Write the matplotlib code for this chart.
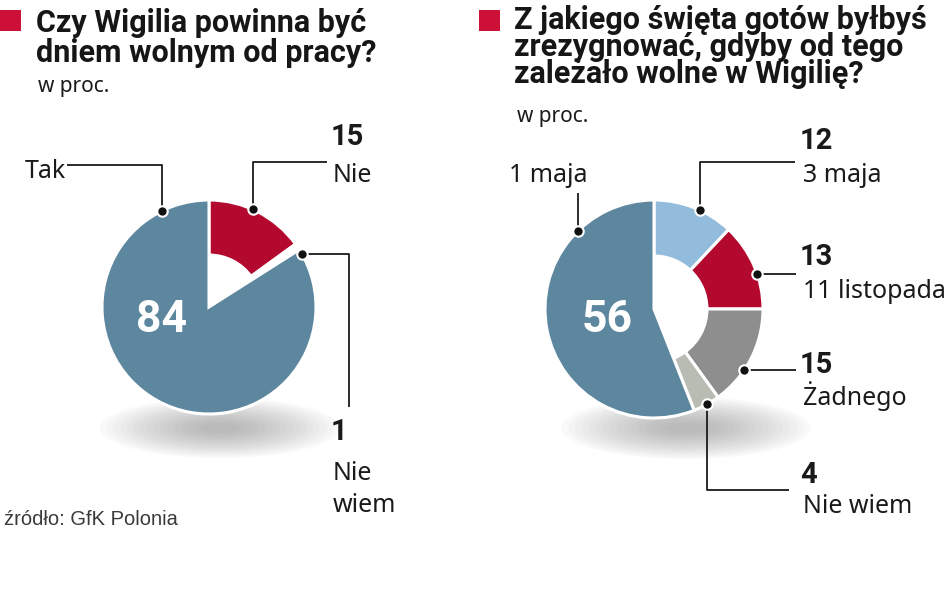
import numpy as np
import matplotlib
matplotlib.use("Agg")
import matplotlib.pyplot as plt
from matplotlib.patches import Ellipse, Rectangle

# --- data -------------------------------------------------------------
left_title = ["Czy Wigilia powinna być", "dniem wolnym od pracy?"]
left_labels = ["Nie", "Nie\nwiem", "Tak"]
left_values = [15, 1, 84]

right_title = ["Z jakiego święta gotów byłbyś", "zrezygnować, gdyby od tego",
               "zależało wolne w Wigilię?"]
right_labels = ["3 maja", "11 listopada", "Żadnego", "Nie wiem", "1 maja"]
right_values = [12, 13, 15, 4, 56]

unit = "w proc."
source = "źródło: GfK Polonia"

# --- style ------------------------------------------------------------
W, H = 948, 593
BLUE = "#5d879e"
RED = "#b3092f"
LIGHTBLUE = "#93bcdc"
GRAY = "#8e8e8e"
SAGE = "#b9bcb2"
SQUARE = "#cc1038"

left_colors = [RED, "white", BLUE]
left_inner = ["white", "white", "none"]
right_colors = [LIGHTBLUE, RED, GRAY, SAGE, BLUE]
right_inner = ["white", "white", "white", "white", "none"]

TITLE_FONT = ["Roboto", "DejaVu Sans"]
NUM_FONT = ["Roboto", "DejaVu Sans"]
LABEL_FONT = ["Noto Sans", "DejaVu Sans"]
SRC_FONT = ["Liberation Sans Narrow", "Liberation Sans", "DejaVu Sans"]

fig = plt.figure(figsize=(W / 100, H / 100), dpi=100)
ax = fig.add_axes([0, 0, 1, 1])


def Y(py):
    # image pixel row -> data y
    return H - py


def pie(values, colors, inner, center, radius):
    ax.pie(values, colors=colors, startangle=90, counterclock=False,
           center=center, radius=radius, frame=True,
           wedgeprops=dict(edgecolor="white", linewidth=2.2))
    ax.pie(values, colors=inner, startangle=90, counterclock=False,
           center=center, radius=radius * 0.5, frame=True,
           wedgeprops=dict(linewidth=0))


def shadow(cx, cy, w, h):
    for k in range(16):
        f = 1 - k / 18
        ax.add_patch(Ellipse((cx, cy), w * f, h * f, color="#6f6f6f",
                             alpha=0.035, lw=0, zorder=0))


def dot_at(center, radius, angle):
    a = np.deg2rad(angle)
    return center[0] + radius * np.cos(a), center[1] + radius * np.sin(a)


def leader(points):
    xs, ys = zip(*points)
    ax.plot(xs, ys, color="#1a1a1a", lw=1.3, zorder=5, solid_capstyle="butt")
    ax.plot(xs[0], ys[0], "o", ms=7.5, mfc="#111111", mec="white", mew=1.5,
            zorder=6)


def num(x, y, s, size=21):
    ax.text(x, Y(y), s, fontsize=size, fontweight="bold", family=NUM_FONT,
            color="#1a1a1a", va="baseline", ha="left")


def lab(x, y, s, size=18, step=32):
    for i, line in enumerate(s.split("\n")):
        ax.text(x, Y(y + step * i), line, fontsize=size, family=LABEL_FONT,
                color="#1a1a1a", va="baseline", ha="left")


# --- left chart -------------------------------------------------------
c1 = (209, Y(307))
R = 107
shadow(220, Y(428), 240, 60)
pie(left_values, left_colors, left_inner, c1, R)
ax.text(162, Y(332), str(left_values[2]), color="white", fontsize=32,
        fontweight="bold", family=NUM_FONT, ha="center", va="baseline")

# Tak
d = dot_at(c1, R, 116)
leader([d, (d[0], Y(165)), (67, Y(165))])
lab(25, 178, left_labels[2])
# Nie
d = dot_at(c1, R, 66)
leader([d, (d[0], Y(162)), (327, Y(162))])
num(331, 145, str(left_values[0]))
lab(333, 182, left_labels[0])
# Nie wiem
d = dot_at(c1, R, 30)
leader([d, (349, d[1]), (349, Y(407))])
num(331, 440, str(left_values[1]))
lab(333, 480, left_labels[1])

# --- right chart ------------------------------------------------------
c2 = (654, Y(309))
shadow(686, Y(428), 250, 62)
pie(right_values, right_colors, right_inner, c2, R + 2)
ax.text(607, Y(332), str(right_values[4]), color="white", fontsize=32,
        fontweight="bold", family=NUM_FONT, ha="center", va="baseline")

# 1 maja
d = dot_at(c2, R + 2, 134)
leader([d, (d[0], Y(193))])
lab(509, 182, right_labels[4])
# 3 maja
d = dot_at(c2, R + 2, 65)
leader([d, (d[0], Y(162)), (795, Y(162))])
num(800, 149, str(right_values[0]))
lab(803, 182, right_labels[0])
# 11 listopada
d = dot_at(c2, R + 2, 19)
leader([d, (796, d[1])])
num(800, 265, str(right_values[1]))
lab(803, 298, right_labels[1])
# Żadnego
d = dot_at(c2, R + 2, -34)
leader([d, (796, d[1])])
num(800, 373, str(right_values[2]))
lab(803, 405, right_labels[2])
# Nie wiem
d = dot_at(c2, R + 2, -61)
leader([d, (d[0], Y(490)), (789, Y(490))])
num(800, 483, str(right_values[3]))
lab(803, 513, right_labels[3])

# --- titles -----------------------------------------------------------
ax.add_patch(Rectangle((0, Y(31)), 21, 21, color=SQUARE, lw=0))
ax.text(36, Y(62), "\n".join(left_title), fontsize=22, fontweight="bold",
        family=TITLE_FONT, color="#161616", va="baseline", linespacing=1.02)
ax.text(38, Y(92), unit, fontsize=15, family=LABEL_FONT, color="#1a1a1a",
        va="baseline")

ax.add_patch(Rectangle((479, Y(31)), 21, 21, color=SQUARE, lw=0))
ax.text(514, Y(83), "\n".join(right_title), fontsize=22, fontweight="bold",
        family=TITLE_FONT, color="#161616", va="baseline", linespacing=0.88)
ax.text(517, Y(122), unit, fontsize=15, family=LABEL_FONT, color="#1a1a1a",
        va="baseline")

ax.text(4, Y(525), source, fontsize=14.5, family=SRC_FONT, color="#3a3a3a",
        va="baseline")

ax.set_xlim(0, W)
ax.set_ylim(0, H)
ax.set_aspect("equal")
ax.axis("off")

fig.savefig("out.png", dpi=100)
